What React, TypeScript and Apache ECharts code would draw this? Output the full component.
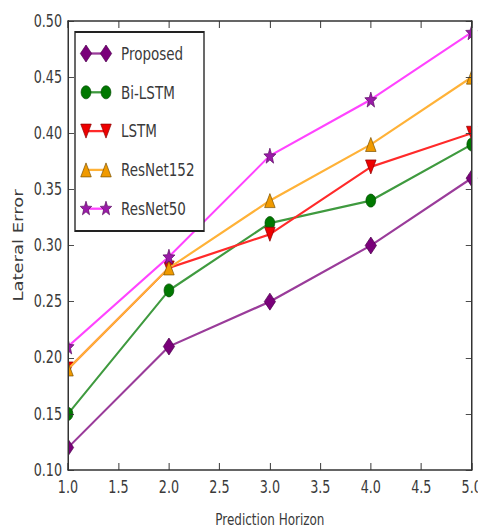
import React, { useEffect, useRef } from "react";
import * as echarts from "echarts";

// ---------- data ----------
const horizons = [1, 2, 3, 4, 5];
const seriesNames = ["Proposed", "Bi-LSTM", "LSTM", "ResNet152", "ResNet50"];
const proposed = [0.12, 0.21, 0.25, 0.3, 0.36];
const biLstm = [0.15, 0.26, 0.32, 0.34, 0.39];
const lstm = [0.19, 0.28, 0.31, 0.37, 0.4];
const resnet152 = [0.19, 0.28, 0.34, 0.39, 0.45];
const resnet50 = [0.21, 0.29, 0.38, 0.43, 0.49];
const seriesValues = [proposed, biLstm, lstm, resnet152, resnet50];

const xMin = 1.0;
const xMax = 5.0;
const xStep = 0.5;
const yMin = 0.1;
const yMax = 0.5;
const yStep = 0.05;
const xTitle = "Prediction Horizon";
const yTitle = "Lateral Error";

// ---------- layout (the reference figure is squeezed horizontally) ----------
const VIEW_W = 478;
const VIEW_H = 527;
const SX = 0.75; // horizontal squeeze of the whole figure
const INNER_W = VIEW_W / SX;
const ux = (v: number) => v / SX; // visual x -> chart x
const GRID_LEFT = ux(68);
const GRID_RIGHT = ux(6);

// ---------- styles ----------
const lineColors = ["#9a3c9a", "#3f9a3f", "#ff2a2a", "#ffb238", "#ff44ff"];
const markerColors = ["#7a007a", "#007800", "#ee0000", "#f09a00", "#9a1aa8"];
const markerEdges = ["#4a004a", "#004a00", "#8a0000", "#7a5000", "#5a0a60"];
const markerKinds = ["diamond", "circle", "tridown", "triup", "star"];
const markerSizes: [number, number][] = [
  [15, 17],
  [13, 13],
  [14, 14],
  [14, 14],
  [16, 15],
];

function starPoints(cx: number, cy: number, rx: number, ry: number): number[][] {
  const pts: number[][] = [];
  for (let i = 0; i < 10; i++) {
    const r = i % 2 === 0 ? 1 : 0.42;
    const a = -Math.PI / 2 + (i * Math.PI) / 5;
    pts.push([cx + Math.cos(a) * r * rx, cy + Math.sin(a) * r * ry]);
  }
  return pts;
}

function starPath(): string {
  const p = starPoints(50, 50, 50, 50);
  return "path://M" + p.map((q) => q[0].toFixed(2) + "," + q[1].toFixed(2)).join("L") + "Z";
}

function echartsSymbol(kind: string): { symbol: string; rotate: number } {
  if (kind === "diamond") return { symbol: "diamond", rotate: 0 };
  if (kind === "circle") return { symbol: "circle", rotate: 0 };
  if (kind === "tridown") return { symbol: "triangle", rotate: 180 };
  if (kind === "triup") return { symbol: "triangle", rotate: 0 };
  return { symbol: starPath(), rotate: 0 };
}

function legendMarker(kind: string, cx: number, cy: number, w: number, h: number, fill: string, stroke: string): any {
  const style = { fill, stroke, lineWidth: 0.8 };
  const hw = w / 2;
  const hh = h / 2;
  if (kind === "circle") {
    return { type: "ellipse", shape: { cx, cy, rx: hw, ry: hh }, style, z: 102 };
  }
  let points: number[][];
  if (kind === "diamond") points = [[cx, cy - hh], [cx + hw, cy], [cx, cy + hh], [cx - hw, cy]];
  else if (kind === "tridown") points = [[cx - hw, cy - hh], [cx + hw, cy - hh], [cx, cy + hh]];
  else if (kind === "triup") points = [[cx, cy - hh], [cx + hw, cy + hh], [cx - hw, cy + hh]];
  else points = starPoints(cx, cy, hw, hh);
  return { type: "polygon", shape: { points }, style, z: 102 };
}

const font = "'DejaVu Sans', sans-serif";
const axisColor = "#333333";
const textColor = "#3a3a3a";

export default function App() {
  const ref = useRef<HTMLDivElement | null>(null);

  useEffect(() => {
    if (!ref.current) return;
    const chart = echarts.init(ref.current, undefined, { renderer: "svg" });

    const series = seriesNames.map((name, i) => {
      const s = echartsSymbol(markerKinds[i]);
      return {
        name,
        type: "line",
        data: horizons.map((h, j) => [h, seriesValues[i][j]]),
        symbol: s.symbol,
        symbolRotate: s.rotate,
        symbolSize: markerSizes[i],
        showAllSymbol: true,
        clip: true,
        lineStyle: { color: lineColors[i], width: 2.3 },
        itemStyle: { color: markerColors[i], borderColor: markerEdges[i], borderWidth: 0.8 },
        emphasis: { disabled: true },
        z: 2 + i,
      };
    });

    // legend built from series names / styles
    const lgX = ux(75);
    const lgY = 32;
    const lgW = ux(204) - ux(75);
    const lgH = 199;
    const rowY0 = 53.5;
    const rowStep = 38.8;
    const legendChildren: any[] = [
      {
        type: "rect",
        shape: { x: lgX, y: lgY, width: lgW, height: lgH },
        style: { fill: "#ffffff", stroke: "#222222", lineWidth: 1.8 },
        z: 100,
      },
    ];
    seriesNames.forEach((name, i) => {
      const cy = rowY0 + i * rowStep;
      const x1 = ux(86);
      const x2 = ux(106);
      legendChildren.push({
        type: "line",
        shape: { x1, y1: cy, x2, y2: cy },
        style: { stroke: lineColors[i], lineWidth: 2.3 },
        z: 101,
      });
      const [w, h] = markerSizes[i];
      legendChildren.push(legendMarker(markerKinds[i], x1, cy, w, h, markerColors[i], markerEdges[i]));
      legendChildren.push(legendMarker(markerKinds[i], x2, cy, w, h, markerColors[i], markerEdges[i]));
      legendChildren.push({
        type: "text",
        x: ux(121),
        y: cy,
        style: {
          text: name,
          fill: textColor,
          font: "18px " + font,
          verticalAlign: "middle",
        },
        z: 102,
      });
    });

    // white masks outside the plot area so edge markers are clipped like the reference
    const masks = [
      {
        type: "rect",
        shape: { x: 0, y: 0, width: GRID_LEFT, height: VIEW_H },
        style: { fill: "#ffffff" },
        z: 20,
        silent: true,
      },
      {
        type: "rect",
        shape: { x: INNER_W - GRID_RIGHT, y: 0, width: GRID_RIGHT, height: VIEW_H },
        style: { fill: "#ffffff" },
        z: 20,
        silent: true,
      },
    ];

    const baseX = {
      type: "value",
      min: xMin,
      max: xMax,
      interval: xStep,
      z: 50,
      splitLine: { show: false },
      axisLine: { show: true, lineStyle: { color: axisColor, width: 1.5 } },
      axisTick: { show: true, inside: true, length: 7, lineStyle: { color: axisColor, width: 1.3 } },
    };
    const baseY = {
      type: "value",
      min: yMin,
      max: yMax,
      interval: yStep,
      z: 50,
      splitLine: { show: false },
      axisLine: { show: true, lineStyle: { color: axisColor, width: 2 } },
      axisTick: { show: true, inside: true, length: ux(6), lineStyle: { color: axisColor, width: 1 } },
    };

    chart.setOption({
      animation: false,
      backgroundColor: "#ffffff",
      grid: {
        left: GRID_LEFT,
        right: GRID_RIGHT,
        top: 21,
        bottom: 57,
        containLabel: false,
        outerBoundsMode: "none",
      },
      xAxis: [
        {
          ...baseX,
          position: "bottom",
          name: xTitle,
          nameLocation: "middle",
          nameGap: 41,
          nameTextStyle: { fontFamily: font, fontSize: 16, color: textColor },
          axisLabel: {
            show: true,
            margin: 9,
            fontFamily: font,
            fontSize: 17,
            color: textColor,
            formatter: (v: number) => v.toFixed(1),
          },
        },
        { ...baseX, position: "top", axisLabel: { show: false } },
      ],
      yAxis: [
        {
          ...baseY,
          position: "left",
          name: yTitle,
          nameLocation: "middle",
          nameGap: 46,
          nameTextStyle: { fontFamily: font, fontSize: 18, color: textColor },
          axisLabel: {
            show: true,
            margin: 8,
            fontFamily: font,
            fontSize: 17,
            color: textColor,
            formatter: (v: number) => v.toFixed(2),
          },
        },
        { ...baseY, position: "right", axisLabel: { show: false } },
      ],
      series,
      graphic: [...masks, { type: "group", children: legendChildren, z: 100 }],
    });

    return () => {
      chart.dispose();
    };
  }, []);

  return (
    <div
      style={{
        position: "fixed",
        left: 0,
        top: 0,
        width: VIEW_W,
        height: VIEW_H,
        overflow: "hidden",
        background: "#fff",
      }}
    >
      <div
        ref={ref}
        style={{
          width: INNER_W,
          height: VIEW_H,
          transform: `scaleX(${SX})`,
          transformOrigin: "0 0",
        }}
      />
    </div>
  );
}
